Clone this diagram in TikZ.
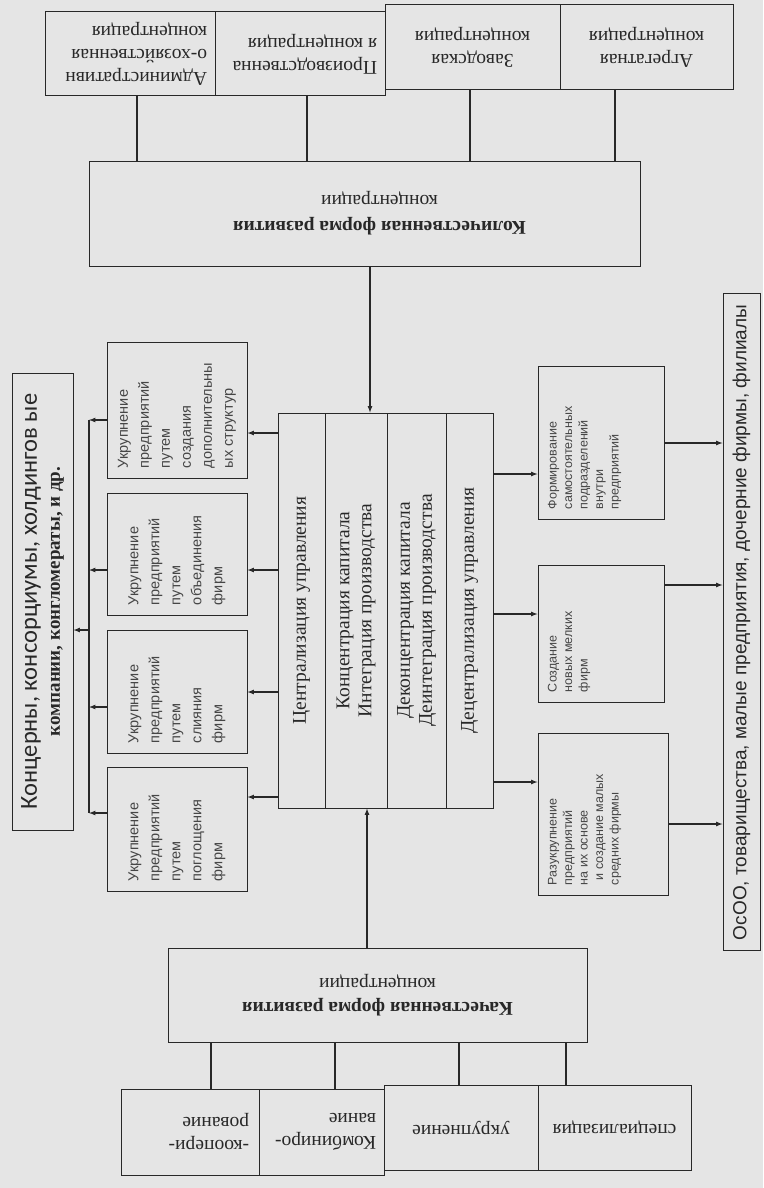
\documentclass[tikz,border=0pt]{standalone}
\usepackage{fontspec}
\usepackage{graphicx}
\setmainfont{Liberation Serif}
\newfontfamily\sansf{Liberation Sans}
\newfontfamily\calf{Carlito}

\definecolor{pagebg}{RGB}{229,229,229}
\definecolor{ink}{RGB}{40,40,40}
\definecolor{greyink}{RGB}{70,70,70}

\newcommand{\boxfont}{\fontsize{19.5}{23}\selectfont}
\newcommand{\grpfont}{\fontsize{19.5}{22}\selectfont}
\newcommand{\smallsans}{\sansf\fontsize{14.5}{21}\selectfont}
\newcommand{\tinysans}{\sansf\fontsize{12.5}{15.5}\selectfont}

\begin{document}
\begin{tikzpicture}[x=1pt, y=-1pt, >=latex, color=ink,
    box/.style={draw, inner sep=0pt, line width=1pt},
    link/.style={line width=1.2pt}]
  \useasboundingbox[fill=pagebg] (0,0) rectangle (763,1188);

  % top row
  \node[box, minimum width=170, minimum height=84] (t1) at (130,54)
    {\rotatebox{180}{\parbox{154pt}{\raggedright\boxfont Административн\\о-хозяйственная\\концентрация}}};
  \node[box, minimum width=170, minimum height=84] (t2) at (300,54)
    {\rotatebox{180}{\parbox{154pt}{\raggedright\boxfont Производственна\\я концентрация}}};
  \node[box, minimum width=175, minimum height=85] (t3) at (472.5,47.5)
    {\rotatebox{180}{\parbox{159pt}{\centering\boxfont Заводская\\концентрация}}};
  \node[box, minimum width=173, minimum height=85] (t4) at (646.5,47.5)
    {\rotatebox{180}{\parbox{157pt}{\centering\boxfont Агрегатная\\концентрация}}};

  \node[box, minimum width=551, minimum height=105] (kol) at (364.5,213.5)
    {\hspace*{30pt}\rotatebox{180}{\parbox{400pt}{\centering\fontsize{19.5}{26}\selectfont\textbf{Количественная форма развития}\\концентрации}}};

  % centre block
  \node[box, minimum width=47, minimum height=395] (g1) at (301.5,610.5)
    {\rotatebox{90}{\parbox{380pt}{\centering\grpfont Централизация управления}}};
  \node[box, minimum width=62, minimum height=395] (g2) at (356,610.5)
    {\rotatebox{90}{\parbox{380pt}{\centering\grpfont Концентрация капитала\\Интеграция производства}}};
  \node[box, minimum width=59, minimum height=395] (g3) at (416.5,610.5)
    {\rotatebox{90}{\parbox{380pt}{\centering\grpfont Деконцентрация капитала\\Деинтеграция производства}}};
  \node[box, minimum width=47, minimum height=395] (g4) at (469.5,610.5)
    {\rotatebox{90}{\parbox{380pt}{\centering\grpfont Децентрализация управления}}};

  \node[box, minimum width=419, minimum height=94] (kach) at (377.5,995)
    {\rotatebox{180}{\parbox{400pt}{\centering\fontsize{19.5}{24}\selectfont\textbf{Качественная форма развития}\\концентрации}}};

  % bottom row
  \node[box, minimum width=138, minimum height=86] (b1) at (190,1132)
    {\rotatebox{180}{\parbox{118pt}{\raggedright\boxfont -коопери-\\рование}}};
  \node[box, minimum width=125, minimum height=86] (b2) at (321.5,1132)
    {\rotatebox{180}{\parbox{109pt}{\raggedright\boxfont Комбиниро-\\вание}}};
  \node[box, minimum width=154, minimum height=85] (b3) at (461,1127.5)
    {\rotatebox{180}{\parbox{138pt}{\centering\boxfont укрупнение}}};
  \node[box, minimum width=153, minimum height=85] (b4) at (614.5,1127.5)
    {\rotatebox{180}{\parbox{137pt}{\centering\boxfont специализация}}};

  % left side
  \node[box, minimum width=140, minimum height=136, text=greyink] (l1) at (177,410)
    {\rotatebox{90}{\parbox{116pt}{\raggedright\smallsans Укрупнение\\предприятий\\путем\\создания\\дополнительны\\ых структур}}};
  \node[box, minimum width=140, minimum height=122, text=greyink] (l2) at (177,554)
    {\rotatebox{90}{\parbox{102pt}{\raggedright\smallsans Укрупнение\\предприятий\\путем\\объединения\\фирм}}};
  \node[box, minimum width=140, minimum height=123, text=greyink] (l3) at (177,691.5)
    {\rotatebox{90}{\parbox{103pt}{\raggedright\smallsans Укрупнение\\предприятий\\путем\\слияния\\фирм}}};
  \node[box, minimum width=140, minimum height=124, text=greyink] (l4) at (177,829)
    {\rotatebox{90}{\parbox{104pt}{\raggedright\smallsans Укрупнение\\предприятий\\путем\\поглощения\\фирм}}};

  \node[box, minimum width=61, minimum height=457] (k) at (42.5,601.5)
    {\rotatebox{90}{\parbox{450pt}{\centering\fontsize{19}{23}\selectfont{\calf\fontsize{24.5}{23}\selectfont Концерны, консорциумы, холдингов ые}\\\textbf{компании, конгломераты, и др.}}}};

  % right side
  \node[box, minimum width=126, minimum height=153, text=greyink] (r1) at (601,442.5)
    {\rotatebox{90}{\parbox[c][106pt][t]{133pt}{\raggedright\tinysans Формирование\\самостоятельных\\подразделений\\внутри\\предприятий}}};
  \node[box, minimum width=126, minimum height=137, text=greyink] (r2) at (601,633.5)
    {\rotatebox{90}{\parbox[c][106pt][t]{117pt}{\raggedright\tinysans Создание\\новых мелких\\фирм}}};
  \node[box, minimum width=130, minimum height=162, text=greyink] (r3) at (603,814)
    {\rotatebox{90}{\parbox[c][110pt][t]{142pt}{\raggedright\tinysans Разукрупнение\\предприятий\\на их основе\\\hspace*{0.4em}и создание малых\\средних фирмы}}};

  \node[box, minimum width=37, minimum height=657] (o) at (741.5,621.5)
    {\rotatebox{90}{\parbox{637pt}{\raggedright\sansf\fontsize{19}{21}\selectfont ОсОО, товарищества, малые предприятия, дочерние фирмы, филиалы}}};

  % connector positions
  \coordinate (c1) at (137,0);
  \coordinate (c2) at (307,0);
  \coordinate (c3) at (470,0);
  \coordinate (c4) at (615,0);
  \coordinate (cm) at (370,0);
  \coordinate (cq) at (367,0);
  \coordinate (d1) at (211,0);
  \coordinate (d2) at (335,0);
  \coordinate (d3) at (459,0);
  \coordinate (d4) at (566,0);
  \coordinate (bus) at (89,0);

  \coordinate (h1) at (0,433);
  \coordinate (h2) at (0,570);
  \coordinate (h3) at (0,692);
  \coordinate (h4) at (0,797);
  \coordinate (v1) at (0,420);
  \coordinate (v2) at (0,570);
  \coordinate (v3) at (0,707);
  \coordinate (v4) at (0,813);
  \coordinate (vk) at (0,630);
  \coordinate (e1) at (0,474);
  \coordinate (e2) at (0,614);
  \coordinate (e3) at (0,782);
  \coordinate (f1) at (0,443);
  \coordinate (f2) at (0,585);
  \coordinate (f3) at (0,824);

  \draw[link] (c1 |- t1.south) -- (c1 |- kol.north);
  \draw[link] (c2 |- t2.south) -- (c2 |- kol.north);
  \draw[link] (c3 |- t3.south) -- (c3 |- kol.north);
  \draw[link] (c4 |- t4.south) -- (c4 |- kol.north);

  \draw[link, ->] (cm |- kol.south) -- (cm |- g2.north);
  \draw[link, ->] (cq |- kach.north) -- (cq |- g2.south);

  \draw[link] (d1 |- kach.south) -- (d1 |- b1.north);
  \draw[link] (d2 |- kach.south) -- (d2 |- b2.north);
  \draw[link] (d3 |- kach.south) -- (d3 |- b3.north);
  \draw[link] (d4 |- kach.south) -- (d4 |- b4.north);

  \draw[link, ->] (g1.west |- h1) -- (l1.east |- h1);
  \draw[link, ->] (g1.west |- h2) -- (l2.east |- h2);
  \draw[link, ->] (g1.west |- h3) -- (l3.east |- h3);
  \draw[link, ->] (g1.west |- h4) -- (l4.east |- h4);

  \draw[link, ->] (l1.west |- v1) -- (bus |- v1);
  \draw[link, ->] (l2.west |- v2) -- (bus |- v2);
  \draw[link, ->] (l3.west |- v3) -- (bus |- v3);
  \draw[link, ->] (l4.west |- v4) -- (bus |- v4);
  \draw[link] (bus |- v1) -- (bus |- v4);
  \draw[link, ->] (bus |- vk) -- (k.east |- vk);

  \draw[link, ->] (g4.east |- e1) -- (r1.west |- e1);
  \draw[link, ->] (g4.east |- e2) -- (r2.west |- e2);
  \draw[link, ->] (g4.east |- e3) -- (r3.west |- e3);

  \draw[link, ->] (r1.east |- f1) -- (o.west |- f1);
  \draw[link, ->] (r2.east |- f2) -- (o.west |- f2);
  \draw[link, ->] (r3.east |- f3) -- (o.west |- f3);
\end{tikzpicture}
\end{document}
